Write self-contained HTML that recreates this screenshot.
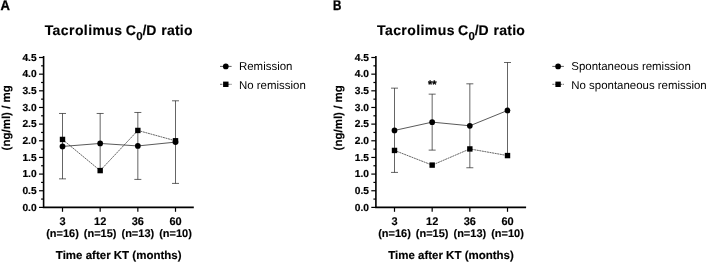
<!DOCTYPE html>
<html><head><meta charset="utf-8"><title>Tacrolimus C0/D ratio</title>
<style>
html,body{margin:0;padding:0;background:#fff;}
svg{display:block;will-change:transform;text-rendering:geometricPrecision;font-family:"Liberation Sans",Arial,sans-serif;fill:#000;}
.pl{font-weight:bold;font-size:14px;stroke:#000;stroke-width:0.35px;}
.ttl{font-weight:bold;font-size:14px;stroke:#000;stroke-width:0.15px;}
.yl{font-weight:bold;font-size:10.2px;text-anchor:end;stroke:#000;stroke-width:0.2px;}
.xl{stroke:#000;stroke-width:0.15px;font-weight:bold;font-size:11px;text-anchor:middle;}
.xt{stroke:#000;stroke-width:0.15px;font-weight:bold;font-size:11.5px;text-anchor:middle;}
.yt{stroke:#000;stroke-width:0.15px;font-weight:bold;font-size:11.5px;text-anchor:middle;}
.lg{font-size:11.45px;}
.st{font-weight:bold;font-size:11px;text-anchor:middle;stroke:#000;stroke-width:0.3px;}
.ax{fill:none;stroke:#000;stroke-width:1.6;stroke-linecap:square;}
.tk{fill:none;stroke:#000;stroke-width:1.2;}
.eb{fill:none;stroke:#222;stroke-width:0.7;}
.ln{fill:none;stroke:#000;stroke-width:0.65;}
.ds{stroke-dasharray:2 0.6;stroke-width:0.6;}
</style></head><body>
<svg width="708" height="263" viewBox="0 0 708 263">
<rect width="708" height="263" fill="#fff"/>
<text transform="translate(0.5 10.4) scale(0.93 1)" class="pl">A</text>
<text y="34.85" class="ttl"><tspan x="44.7" letter-spacing="0.42">Tacrolimus</tspan><tspan x="125.8"> </tspan><tspan x="125.8">C</tspan><tspan x="136.3" dy="5.1" font-size="11.5">0</tspan><tspan x="142.4" dy="-5.1">/D</tspan><tspan x="157"> </tspan><tspan x="161.2" letter-spacing="0.25">ratio</tspan></text>
<path d="M43.6 56.705 V207.4 H193" class="ax"/>
<path d="M39.0 207.40 H43.6" class="tk"/>
<text x="36.6" y="210.50" class="yl">0.0</text>
<path d="M41.1 199.07 H43.6" class="tk"/>
<path d="M39.0 190.75 H43.6" class="tk"/>
<text x="36.6" y="193.84" class="yl">0.5</text>
<path d="M41.1 182.42 H43.6" class="tk"/>
<path d="M39.0 174.09 H43.6" class="tk"/>
<text x="36.6" y="177.19" class="yl">1.0</text>
<path d="M41.1 165.76 H43.6" class="tk"/>
<path d="M39.0 157.44 H43.6" class="tk"/>
<text x="36.6" y="160.53" class="yl">1.5</text>
<path d="M41.1 149.11 H43.6" class="tk"/>
<path d="M39.0 140.78 H43.6" class="tk"/>
<text x="36.6" y="143.88" class="yl">2.0</text>
<path d="M41.1 132.45 H43.6" class="tk"/>
<path d="M39.0 124.12 H43.6" class="tk"/>
<text x="36.6" y="127.22" class="yl">2.5</text>
<path d="M41.1 115.80 H43.6" class="tk"/>
<path d="M39.0 107.47 H43.6" class="tk"/>
<text x="36.6" y="110.57" class="yl">3.0</text>
<path d="M41.1 99.14 H43.6" class="tk"/>
<path d="M39.0 90.81 H43.6" class="tk"/>
<text x="36.6" y="93.91" class="yl">3.5</text>
<path d="M41.1 82.49 H43.6" class="tk"/>
<path d="M39.0 74.16 H43.6" class="tk"/>
<text x="36.6" y="77.26" class="yl">4.0</text>
<path d="M41.1 65.83 H43.6" class="tk"/>
<path d="M39.0 57.50 H43.6" class="tk"/>
<text x="36.6" y="60.60" class="yl">4.5</text>
<path d="M62.50 207.4 V211.8" class="tk"/>
<text x="62.50" y="224.5" class="xl">3</text>
<text x="62.50" y="237.2" class="xl">(n=16)</text>
<path d="M100.17 207.4 V211.8" class="tk"/>
<text x="100.17" y="224.5" class="xl">12</text>
<text x="100.17" y="237.2" class="xl">(n=15)</text>
<path d="M137.84 207.4 V211.8" class="tk"/>
<text x="137.84" y="224.5" class="xl">36</text>
<text x="137.84" y="237.2" class="xl">(n=13)</text>
<path d="M175.51 207.4 V211.8" class="tk"/>
<text x="175.51" y="224.5" class="xl">60</text>
<text x="175.51" y="237.2" class="xl">(n=10)</text>
<text x="118.7" y="258.9" class="xt">Time after KT (months)</text>
<text transform="translate(9.5 117.8) rotate(-90)" class="yt">(ng/ml) / mg</text>
<path d="M62.50 178.85 V113.47" class="eb"/>
<path d="M59.00 113.47 h7" class="eb"/>
<path d="M59.00 178.85 h7" class="eb"/>
<path d="M100.17 170.59 V113.47" class="eb"/>
<path d="M96.67 113.47 h7" class="eb"/>
<path d="M137.84 179.42 V112.47" class="eb"/>
<path d="M134.34 112.47 h7" class="eb"/>
<path d="M134.34 179.42 h7" class="eb"/>
<path d="M175.51 183.42 V100.81" class="eb"/>
<path d="M172.01 100.81 h7" class="eb"/>
<path d="M172.01 183.42 h7" class="eb"/>
<path d="M62.50 139.45 L100.17 170.59 L137.84 130.45 L175.51 140.78" class="ln ds"/>
<path d="M62.50 146.44 L100.17 143.44 L137.84 145.94 L175.51 142.11" class="ln"/>
<rect x="59.80" y="136.75" width="5.4" height="5.4"/>
<rect x="97.47" y="167.89" width="5.4" height="5.4"/>
<rect x="135.14" y="127.75" width="5.4" height="5.4"/>
<rect x="172.81" y="138.08" width="5.4" height="5.4"/>
<circle cx="62.50" cy="146.44" r="2.85"/>
<circle cx="100.17" cy="143.44" r="2.85"/>
<circle cx="137.84" cy="145.94" r="2.85"/>
<circle cx="175.51" cy="142.11" r="2.85"/>
<path d="M220.0 66.4 h11.6" class="ln"/>
<circle cx="225.8" cy="66.4" r="2.85"/>
<text x="239.0" y="70.15" class="lg">Remission</text>
<path d="M220.0 84.3 h11.6" class="ln ds"/>
<rect x="223.10000000000002" y="81.6" width="5.4" height="5.4"/>
<text x="239.0" y="88.5" class="lg">No remission</text>
<text transform="translate(333.0 10.4) scale(0.83 1)" class="pl">B</text>
<text y="34.85" class="ttl"><tspan x="377.0" letter-spacing="0.42">Tacrolimus</tspan><tspan x="458.1"> </tspan><tspan x="458.1">C</tspan><tspan x="468.6" dy="5.1" font-size="11.5">0</tspan><tspan x="474.70000000000005" dy="-5.1">/D</tspan><tspan x="489.3"> </tspan><tspan x="493.5" letter-spacing="0.25">ratio</tspan></text>
<path d="M375.90000000000003 56.705 V207.4 H525.3" class="ax"/>
<path d="M371.3 207.40 H375.90000000000003" class="tk"/>
<text x="368.90000000000003" y="210.50" class="yl">0.0</text>
<path d="M373.40000000000003 199.07 H375.90000000000003" class="tk"/>
<path d="M371.3 190.75 H375.90000000000003" class="tk"/>
<text x="368.90000000000003" y="193.84" class="yl">0.5</text>
<path d="M373.40000000000003 182.42 H375.90000000000003" class="tk"/>
<path d="M371.3 174.09 H375.90000000000003" class="tk"/>
<text x="368.90000000000003" y="177.19" class="yl">1.0</text>
<path d="M373.40000000000003 165.76 H375.90000000000003" class="tk"/>
<path d="M371.3 157.44 H375.90000000000003" class="tk"/>
<text x="368.90000000000003" y="160.53" class="yl">1.5</text>
<path d="M373.40000000000003 149.11 H375.90000000000003" class="tk"/>
<path d="M371.3 140.78 H375.90000000000003" class="tk"/>
<text x="368.90000000000003" y="143.88" class="yl">2.0</text>
<path d="M373.40000000000003 132.45 H375.90000000000003" class="tk"/>
<path d="M371.3 124.12 H375.90000000000003" class="tk"/>
<text x="368.90000000000003" y="127.22" class="yl">2.5</text>
<path d="M373.40000000000003 115.80 H375.90000000000003" class="tk"/>
<path d="M371.3 107.47 H375.90000000000003" class="tk"/>
<text x="368.90000000000003" y="110.57" class="yl">3.0</text>
<path d="M373.40000000000003 99.14 H375.90000000000003" class="tk"/>
<path d="M371.3 90.81 H375.90000000000003" class="tk"/>
<text x="368.90000000000003" y="93.91" class="yl">3.5</text>
<path d="M373.40000000000003 82.49 H375.90000000000003" class="tk"/>
<path d="M371.3 74.16 H375.90000000000003" class="tk"/>
<text x="368.90000000000003" y="77.26" class="yl">4.0</text>
<path d="M373.40000000000003 65.83 H375.90000000000003" class="tk"/>
<path d="M371.3 57.50 H375.90000000000003" class="tk"/>
<text x="368.90000000000003" y="60.60" class="yl">4.5</text>
<path d="M394.50 207.4 V211.8" class="tk"/>
<text x="394.50" y="224.5" class="xl">3</text>
<text x="394.50" y="237.2" class="xl">(n=16)</text>
<path d="M432.17 207.4 V211.8" class="tk"/>
<text x="432.17" y="224.5" class="xl">12</text>
<text x="432.17" y="237.2" class="xl">(n=15)</text>
<path d="M469.84 207.4 V211.8" class="tk"/>
<text x="469.84" y="224.5" class="xl">36</text>
<text x="469.84" y="237.2" class="xl">(n=13)</text>
<path d="M507.51 207.4 V211.8" class="tk"/>
<text x="507.51" y="224.5" class="xl">60</text>
<text x="507.51" y="237.2" class="xl">(n=10)</text>
<text x="451.0" y="258.9" class="xt">Time after KT (months)</text>
<text transform="translate(341.8 117.8) rotate(-90)" class="yt">(ng/ml) / mg</text>
<path d="M394.50 172.42 V88.15" class="eb"/>
<path d="M391.00 88.15 h7" class="eb"/>
<path d="M391.00 172.42 h7" class="eb"/>
<path d="M432.17 150.11 V94.15" class="eb"/>
<path d="M428.67 94.15 h7" class="eb"/>
<path d="M428.67 150.11 h7" class="eb"/>
<path d="M469.84 167.76 V83.82" class="eb"/>
<path d="M466.34 83.82 h7" class="eb"/>
<path d="M466.34 167.76 h7" class="eb"/>
<path d="M507.51 155.57 V62.50" class="eb"/>
<path d="M504.01 62.50 h7" class="eb"/>
<path d="M394.50 150.44 L432.17 165.10 L469.84 148.94 L507.51 155.57" class="ln ds"/>
<path d="M394.50 130.45 L432.17 122.13 L469.84 125.79 L507.51 110.47" class="ln"/>
<rect x="391.80" y="147.74" width="5.4" height="5.4"/>
<rect x="429.47" y="162.40" width="5.4" height="5.4"/>
<rect x="467.14" y="146.24" width="5.4" height="5.4"/>
<rect x="504.81" y="152.87" width="5.4" height="5.4"/>
<circle cx="394.50" cy="130.45" r="2.85"/>
<circle cx="432.17" cy="122.13" r="2.85"/>
<circle cx="469.84" cy="125.79" r="2.85"/>
<circle cx="507.51" cy="110.47" r="2.85"/>
<text x="432.17" y="87.8" class="st">**</text>
<path d="M552.3000000000001 66.4 h11.6" class="ln"/>
<circle cx="558.1" cy="66.4" r="2.85"/>
<text x="571.3000000000001" y="70.15" class="lg">Spontaneous remission</text>
<path d="M552.3000000000001 84.3 h11.6" class="ln ds"/>
<rect x="555.4" y="81.6" width="5.4" height="5.4"/>
<text x="571.3000000000001" y="88.5" class="lg">No spontaneous remission</text>
</svg>
</body></html>
